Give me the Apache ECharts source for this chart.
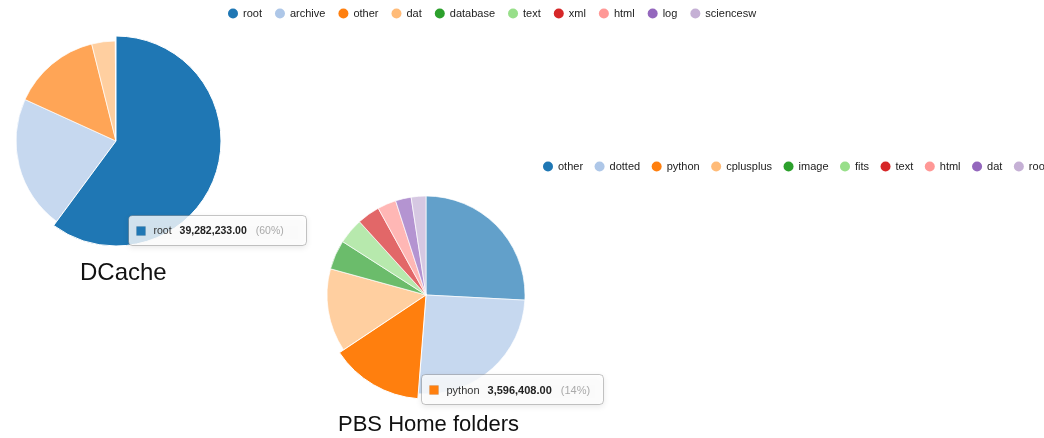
<!DOCTYPE html>
<html>
<head>
<meta charset="utf-8">
<title>Storage usage by file type</title>
<script src="https://cdn.jsdelivr.net/npm/echarts@6/dist/echarts.min.js"></script>
<style>
  html, body { margin: 0; padding: 0; background: #fff; }
  #wrap { position: relative; width: 1044px; height: 438px; overflow: hidden; }
  .chart { position: absolute; left: 0; top: 0; width: 1044px; height: 438px; }
</style>
</head>
<body>
<div id="wrap">
  <div id="dcache" class="chart"></div>
  <div id="pbs" class="chart"></div>
</div>
<script>
// d3 category20 palette (first ten entries)
const palette = ['#1f77b4', '#aec7e8', '#ff7f0e', '#ffbb78', '#2ca02c',
                 '#98df8a', '#d62728', '#ff9896', '#9467bd', '#c5b0d5'];

// DCache storage, bytes per file type
const dcacheNames  = ['root', 'archive', 'other', 'dat', 'database', 'text', 'xml', 'html', 'log', 'sciencesw'];
const dcacheValues = [39282233, 14170000, 9340000, 2480000, 30000, 20000, 10000, 5000, 3000, 2000];
const dcacheFocus  = 'root';

// PBS home folders, bytes per file type
const pbsNames  = ['other', 'dotted', 'python', 'cplusplus', 'image', 'fits', 'text', 'html', 'dat', 'root'];
const pbsValues = [6450000, 6350000, 3596408, 3400000, 1200000, 1050000, 930000, 760000, 640000, 600000];
const pbsFocus  = 'python';

const FONT = "'Liberation Sans', Arial, Helvetica, sans-serif";

function fmt(v) {
  const parts = v.toFixed(2).split('.');
  parts[0] = parts[0].replace(/\B(?=(\d{3})+(?!\d))/g, ',');
  return parts.join('.');
}

function makePie(el, cfg) {
  const chart = echarts.init(document.getElementById(el), null, { renderer: 'canvas' });
  // keep the hovered slice in its own colour (no emphasis lightening)
  const data = cfg.names.map((n, i) => ({
    name: n, value: cfg.values[i],
    emphasis: { itemStyle: { color: palette[i % palette.length], opacity: 1 } }
  }));
  const total = cfg.values.reduce((a, b) => a + b, 0);
  const fi = cfg.names.indexOf(cfg.focus);
  const fv = cfg.values[fi];
  const pct = Math.round(fv / total * 100);
  const tip = cfg.tip;

  chart.setOption({
    animation: false,
    backgroundColor: 'transparent',
    color: palette,
    textStyle: { fontFamily: FONT },
    legend: {
      data: cfg.names,
      left: cfg.legendLeft, top: cfg.legendTop,
      width: 900, padding: 0,
      icon: 'circle', itemWidth: 10, itemHeight: 10, itemGap: cfg.legendGap,
      selectedMode: false,
      itemStyle: { opacity: 1, borderWidth: 0 },
      textStyle: { fontSize: 11, color: '#222', fontFamily: FONT }
    },
    series: [{
      type: 'pie',
      center: cfg.center,
      radius: cfg.radius,
      startAngle: 90,
      clockwise: true,
      avoidLabelOverlap: false,
      label: { show: false },
      labelLine: { show: false },
      itemStyle: { opacity: 0.7, borderColor: '#fff', borderWidth: 1 },
      emphasis: { scale: true, scaleSize: 5, itemStyle: { opacity: 1 }, label: { show: false } },
      data: data
    }],
    graphic: [
      {
        type: 'text', left: cfg.titleX, top: cfg.titleY, z: 50,
        style: { text: cfg.title, font: 'normal ' + cfg.titleSize + 'px ' + FONT, fill: '#111' }
      },
      {
        type: 'group', left: tip.x, top: tip.y,
        children: [
          {
            type: 'rect', z: 100, shape: { x: 0, y: 0, width: tip.w, height: 30, r: 4 },
            style: { fill: 'rgba(255,255,255,0.8)', stroke: 'rgba(0,0,0,0.22)', lineWidth: 1,
                     shadowBlur: 6, shadowOffsetY: 2, shadowColor: 'rgba(0,0,0,0.12)' }
          },
          {
            type: 'rect', z: 101, shape: { x: 8, y: 11, width: 9, height: 9 },
            style: { fill: palette[fi], stroke: 'rgba(0,0,0,0.15)', lineWidth: 0.5 }
          },
          {
            type: 'text', z: 101, x: 25, y: 16,
            style: {
              text: '{k|' + cfg.focus + '}{v|' + fmt(fv) + '}{p|(' + pct + '%)}',
              verticalAlign: 'middle',
              font: tip.font + 'px ' + FONT,
              rich: {
                k: { fontSize: tip.font, fontFamily: FONT, fill: '#333', padding: [0, 8, 0, 0] },
                v: { fontSize: tip.font, fontFamily: FONT, fill: '#222', fontWeight: 'bold', padding: [0, 9, 0, 0] },
                p: { fontSize: tip.font, fontFamily: FONT, fill: '#aaa' }
              }
            }
          }
        ]
      }
    ]
  });
  chart.dispatchAction({ type: 'highlight', seriesIndex: 0, dataIndex: fi });
  return chart;
}

makePie('dcache', {
  names: dcacheNames, values: dcacheValues, focus: dcacheFocus,
  center: [116, 141], radius: 100,
  legendLeft: 228, legendTop: 8, legendGap: 13,
  title: 'DCache', titleX: 80, titleY: 261, titleSize: 24,
  tip: { x: 128, y: 215, w: 178, font: 10.5 }
});

makePie('pbs', {
  names: pbsNames, values: pbsValues, focus: pbsFocus,
  center: [426, 295], radius: 99,
  legendLeft: 543, legendTop: 161, legendGap: 11.5,
  title: 'PBS Home folders', titleX: 338, titleY: 414, titleSize: 22,
  tip: { x: 421, y: 374, w: 182, font: 11 }
});
</script>
</body>
</html>
